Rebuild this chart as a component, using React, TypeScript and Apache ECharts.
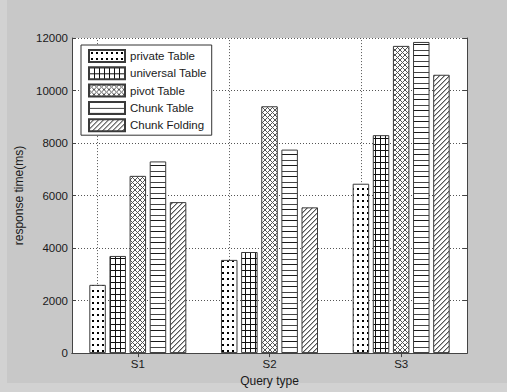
import React, { useEffect, useRef } from 'react';
import * as echarts from 'echarts';

const categories = ['S1', 'S2', 'S3'];
const seriesNames = ['private Table', 'universal Table', 'pivot Table', 'Chunk Table', 'Chunk Folding'];
const privateTable = [2600, 3550, 6450];
const universalTable = [3700, 3850, 8300];
const pivotTable = [6750, 9400, 11700];
const chunkTable = [7300, 7750, 11850];
const chunkFolding = [5750, 5550, 10600];
const yMin = 0;
const yMax = 12000;
const yInterval = 2000;

const FONT = '"Liberation Sans", Arial, Helvetica, sans-serif';

type Px = [number, number, string];

function makeTile(w: number, h: number, pixels: Px[]) {
  const c = document.createElement('canvas');
  c.width = w;
  c.height = h;
  const ctx = c.getContext('2d') as CanvasRenderingContext2D;
  ctx.fillStyle = '#ffffff';
  ctx.fillRect(0, 0, w, h);
  pixels.forEach(([x, y, col]) => {
    ctx.fillStyle = col;
    ctx.fillRect(x, y, 1, 1);
  });
  return { image: c.toDataURL(), repeat: 'repeat', imageWidth: w, imageHeight: h };
}

function buildPatterns() {
  const dots: Px[] = [
    [2, 2, '#000'], [3, 2, '#000'], [2, 3, '#000'], [3, 3, '#000'],
  ];
  const grid: Px[] = [];
  for (let x = 0; x < 5; x++) grid.push([x, 0, '#111']);
  for (let y = 1; y < 6; y++) grid.push([0, y, '#111']);
  const cross: Px[] = [];
  for (let i = 0; i < 5; i++) {
    cross.push([i, i, '#555']);
    cross.push([i, 4 - i, '#555']);
  }
  const hl: Px[] = [];
  for (let x = 0; x < 4; x++) {
    hl.push([x, 0, '#1a1a1a']);
    hl.push([x, 6, '#444']);
  }
  const diag: Px[] = [];
  for (let i = 0; i < 5; i++) {
    diag.push([i, 4 - i, '#555']);
    diag.push([i, (5 - i) % 5, '#b0b0b0']);
  }
  return [
    makeTile(5, 6, dots),
    makeTile(5, 6, grid),
    makeTile(5, 5, cross),
    makeTile(4, 11, hl),
    makeTile(5, 5, diag),
  ];
}

export default function App() {
  const ref = useRef<HTMLDivElement>(null);

  useEffect(() => {
    if (!ref.current) return;
    const chart = echarts.init(ref.current, null, { renderer: 'svg' });
    const patterns = buildPatterns();
    const values = [privateTable, universalTable, pivotTable, chunkTable, chunkFolding];

    const series: any[] = seriesNames.map((name, i) => {
      const s: any = {
        name,
        type: 'bar',
        data: values[i],
        barWidth: 16.5,
        barGap: '22%',
        itemStyle: {
          color: patterns[i],
          borderColor: '#3a3a3a',
          borderWidth: 1,
        },
        emphasis: { disabled: true },
        silent: true,
      };
      if (i === 0) {
        s.markLine = {
          silent: true,
          symbol: 'none',
          z: 1,
          label: { show: false },
          lineStyle: { color: '#555', type: [1, 2], width: 1 },
          data: categories.map((c) => ({ xAxis: c })),
        };
      }
      return s;
    });

    chart.setOption({
      animation: false,
      backgroundColor: '#c8c8c8',
      textStyle: { fontFamily: FONT },
      graphic: [
        { type: 'rect', left: 0, top: 0, shape: { width: 7, height: 392 }, style: { fill: '#d2d2d2' }, z: -10 },
        { type: 'rect', left: 0, top: 383, shape: { width: 507, height: 9 }, style: { fill: '#d2d2d2' }, z: -10 },
      ],
      grid: {
        left: 72,
        top: 38,
        right: 40,
        bottom: 37,
        show: true,
        backgroundColor: '#ffffff',
        borderWidth: 0,
      },
      legend: {
        data: seriesNames,
        orient: 'vertical',
        left: 81,
        top: 45,
        padding: [4, 5, 3, 7],
        itemGap: 3.3,
        itemWidth: 36,
        itemHeight: 12,
        icon: 'rect',
        backgroundColor: '#ffffff',
        borderColor: '#333',
        borderWidth: 1,
        borderRadius: 0,
        textStyle: { fontSize: 11.5, color: '#1a1a1a', fontFamily: FONT },
        selectedMode: false,
      },
      xAxis: [
        {
          type: 'category',
          data: categories,
          position: 'bottom',
          axisLine: { show: true, lineStyle: { color: '#444', width: 1 } },
          axisTick: { show: true, inside: true, length: 4, alignWithLabel: true, lineStyle: { color: '#444' } },
          axisLabel: { color: '#1a1a1a', fontSize: 11.5, fontFamily: FONT, margin: 5 },
          splitLine: { show: false },
          name: 'Query type',
          nameLocation: 'middle',
          nameGap: 19,
          nameTextStyle: { color: '#1a1a1a', fontSize: 12, fontFamily: FONT },
        },
        {
          type: 'category',
          data: categories,
          position: 'top',
          axisLine: { show: true, lineStyle: { color: '#444', width: 1 } },
          axisTick: { show: true, inside: true, length: 4, alignWithLabel: true, lineStyle: { color: '#444' } },
          axisLabel: { show: false },
          splitLine: { show: false },
        },
      ],
      yAxis: [
        {
          type: 'value',
          min: yMin,
          max: yMax,
          interval: yInterval,
          position: 'left',
          axisLine: { show: true, lineStyle: { color: '#444', width: 1 } },
          axisTick: { show: true, inside: true, length: 4, lineStyle: { color: '#444' } },
          axisLabel: {
            color: '#1a1a1a',
            fontSize: 11.5,
            fontFamily: FONT,
            margin: 4,
            formatter: (v: number) => String(v),
          },
          splitLine: { show: true, lineStyle: { color: '#555', type: [1, 2], width: 1 } },
          name: 'response time(ms)',
          nameLocation: 'middle',
          nameGap: 43,
          nameTextStyle: { color: '#1a1a1a', fontSize: 12, fontFamily: FONT },
        },
        {
          type: 'value',
          min: yMin,
          max: yMax,
          interval: yInterval,
          position: 'right',
          axisLine: { show: true, lineStyle: { color: '#444', width: 1 } },
          axisTick: { show: true, inside: true, length: 4, lineStyle: { color: '#444' } },
          axisLabel: { show: false },
          splitLine: { show: false },
        },
      ],
      series,
    });

    return () => {
      chart.dispose();
    };
  }, []);

  return (
    <div
      ref={ref}
      style={{ position: 'absolute', left: 0, top: 0, width: 507, height: 392 }}
    />
  );
}
